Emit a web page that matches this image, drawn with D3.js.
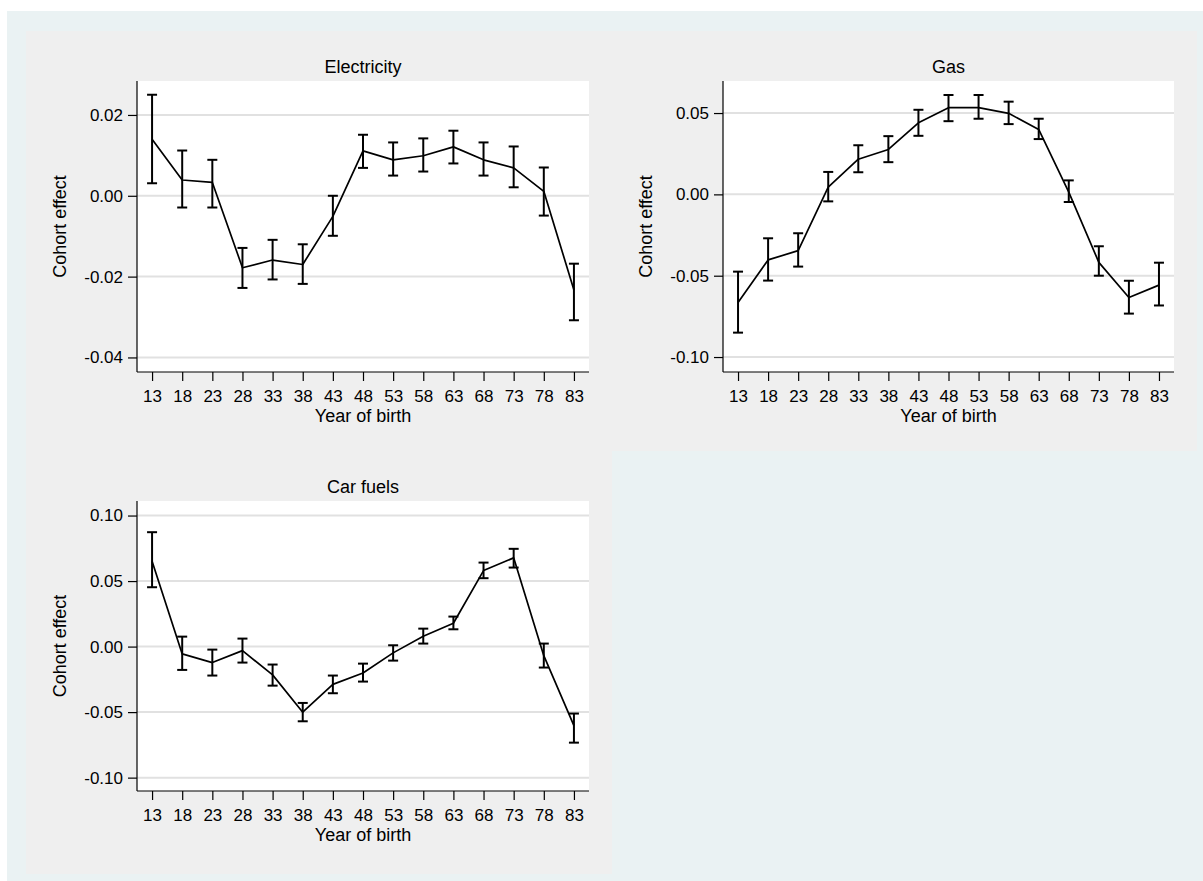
<!DOCTYPE html>
<html>
<head>
<meta charset="utf-8">
<script src="https://cdn.jsdelivr.net/npm/d3@7"></script>
<style>
  html, body { margin: 0; padding: 0; background: #ffffff; }
  svg { display: block; }
  text { font-family: "Liberation Sans", Arial, Helvetica, sans-serif; fill: #000; }
</style>
</head>
<body>
<svg id="chart" width="1203" height="881"></svg>
<script>
// ---- Data ----
const years = [13, 18, 23, 28, 33, 38, 43, 48, 53, 58, 63, 68, 73, 78, 83];

const elecEst = [0.0140, 0.0039, 0.0033, -0.0178, -0.0159, -0.0170, -0.0051, 0.0111, 0.0089, 0.0099, 0.0121, 0.0089, 0.0069, 0.0011, -0.0233];
const elecLo  = [0.0031, -0.0029, -0.0029, -0.0228, -0.0207, -0.0218, -0.0099, 0.0069, 0.0050, 0.0060, 0.0080, 0.0050, 0.0021, -0.0049, -0.0308];
const elecHi  = [0.0250, 0.0112, 0.0089, -0.0129, -0.0109, -0.0120, 0.0000, 0.0151, 0.0132, 0.0142, 0.0161, 0.0132, 0.0122, 0.0070, -0.0168];

const gasEst = [-0.0665, -0.0403, -0.0346, 0.0045, 0.0216, 0.0276, 0.0440, 0.0533, 0.0533, 0.0498, 0.0399, 0.0014, -0.0418, -0.0634, -0.0558];
const gasLo  = [-0.0850, -0.0530, -0.0444, -0.0043, 0.0136, 0.0198, 0.0360, 0.0450, 0.0465, 0.0432, 0.0340, -0.0047, -0.0500, -0.0733, -0.0683];
const gasHi  = [-0.0475, -0.0270, -0.0239, 0.0138, 0.0302, 0.0358, 0.0520, 0.0611, 0.0611, 0.0570, 0.0465, 0.0086, -0.0319, -0.0531, -0.0420];

const carEst = [0.0651, -0.0056, -0.0122, -0.0031, -0.0216, -0.0501, -0.0288, -0.0201, -0.0048, 0.0079, 0.0178, 0.0580, 0.0677, -0.0069, -0.0603];
const carLo  = [0.0453, -0.0178, -0.0221, -0.0122, -0.0298, -0.0570, -0.0356, -0.0267, -0.0107, 0.0023, 0.0132, 0.0522, 0.0603, -0.0160, -0.0733];
const carHi  = [0.0873, 0.0076, -0.0023, 0.0061, -0.0137, -0.0430, -0.0221, -0.0130, 0.0010, 0.0137, 0.0229, 0.0641, 0.0746, 0.0023, -0.0511];

const titles = ["Electricity", "Gas", "Car fuels"];
const elecTicks = [0.02, 0.00, -0.02, -0.04];
const gasTicks  = [0.05, 0.00, -0.05, -0.10];
const carTicks  = [0.10, 0.05, 0.00, -0.05, -0.10];
const yLabel = "Cohort effect";
const xLabel = "Year of birth";

// ---- Layout ----
const svg = d3.select("#chart");
const BLUISH = "#eaf2f3";
const GRAY = "#efefef";

svg.append("rect").attr("x", 7).attr("y", 11).attr("width", 1196).attr("height", 870).attr("fill", BLUISH);

const panels = [
  { title: titles[0], est: elecEst, lo: elecLo, hi: elecHi, ticks: elecTicks,
    box: [26, 31, 586, 420], plot: [137, 81, 589, 372], ydom: [-0.0436, 0.0284] },
  { title: titles[1], est: gasEst, lo: gasLo, hi: gasHi, ticks: gasTicks,
    box: [612, 31, 585, 420], plot: [723, 81, 1174, 372], ydom: [-0.1092, 0.0697] },
  { title: titles[2], est: carEst, lo: carLo, hi: carHi, ticks: carTicks,
    box: [26, 451, 586, 423], plot: [137, 501, 589, 791], ydom: [-0.1102, 0.1111] }
];

const fmt = v => (Math.abs(v) < 1e-9 ? "0.00" : v.toFixed(2));

panels.forEach(p => {
  const [bx, by, bw, bh] = p.box;
  const [L, T, R, B] = p.plot;
  const g = svg.append("g");

  g.append("rect").attr("x", bx).attr("y", by).attr("width", bw).attr("height", bh).attr("fill", GRAY);
  g.append("rect").attr("x", L).attr("y", T).attr("width", R - L).attr("height", B - T).attr("fill", "#ffffff");

  const x = d3.scalePoint().domain(years).range([L, R]).padding(0.5);
  const y = d3.scaleLinear().domain(p.ydom).range([B, T]);

  // gridlines
  g.selectAll("line.grid").data(p.ticks).enter().append("line")
    .attr("x1", L).attr("x2", R)
    .attr("y1", d => y(d)).attr("y2", d => y(d))
    .attr("stroke", "#e1e1e1").attr("stroke-width", 2);

  // y axis
  const yAxis = d3.axisLeft(y).tickValues(p.ticks).tickSize(9).tickPadding(5).tickFormat(fmt);
  const ya = g.append("g").attr("transform", `translate(${L},0)`).call(yAxis);
  ya.select(".domain").attr("d", `M0,${T}V${B}`).attr("stroke", "#000").attr("stroke-width", 1.2);
  ya.selectAll(".tick line").attr("stroke", "#000").attr("stroke-width", 1.2);
  ya.selectAll(".tick text").attr("font-size", 17).attr("font-family", "Liberation Sans, Arial, sans-serif").attr("fill", "#000");

  // x axis
  const xAxis = d3.axisBottom(x).tickSize(9).tickPadding(0).tickFormat(d => String(d));
  const xa = g.append("g").attr("transform", `translate(0,${B})`).call(xAxis);
  xa.select(".domain").attr("d", `M${L},0H${R}`).attr("stroke", "#000").attr("stroke-width", 1.2);
  xa.selectAll(".tick line").attr("stroke", "#000").attr("stroke-width", 1.2);
  xa.selectAll(".tick text").attr("font-size", 17).attr("font-family", "Liberation Sans, Arial, sans-serif")
    .attr("fill", "#000").attr("y", 29.7).attr("dy", 0);

  // error bars
  const cap = 5;
  const eb = g.append("g").attr("stroke", "#000").attr("stroke-width", 2).attr("fill", "none");
  years.forEach((yr, i) => {
    const cx = x(yr);
    eb.append("line").attr("x1", cx).attr("x2", cx).attr("y1", y(p.lo[i])).attr("y2", y(p.hi[i]));
    eb.append("line").attr("x1", cx - cap).attr("x2", cx + cap).attr("y1", y(p.lo[i])).attr("y2", y(p.lo[i]));
    eb.append("line").attr("x1", cx - cap).attr("x2", cx + cap).attr("y1", y(p.hi[i])).attr("y2", y(p.hi[i]));
  });

  // connected line
  const line = d3.line().x((d, i) => x(years[i])).y(d => y(d));
  g.append("path").datum(p.est).attr("d", line)
    .attr("fill", "none").attr("stroke", "#000").attr("stroke-width", 1.7).attr("stroke-linejoin", "round");

  // title
  g.append("text").attr("x", (L + R) / 2).attr("y", T - 8).attr("text-anchor", "middle")
    .attr("font-size", 18).text(p.title);

  // x label
  g.append("text").attr("x", (L + R) / 2).attr("y", B + 50).attr("text-anchor", "middle")
    .attr("font-size", 18).text(xLabel);

  // y label
  g.append("text").attr("transform", `translate(${bx + 40},${(T + B) / 2}) rotate(-90)`)
    .attr("text-anchor", "middle").attr("font-size", 18).text(yLabel);
});
</script>
</body>
</html>
